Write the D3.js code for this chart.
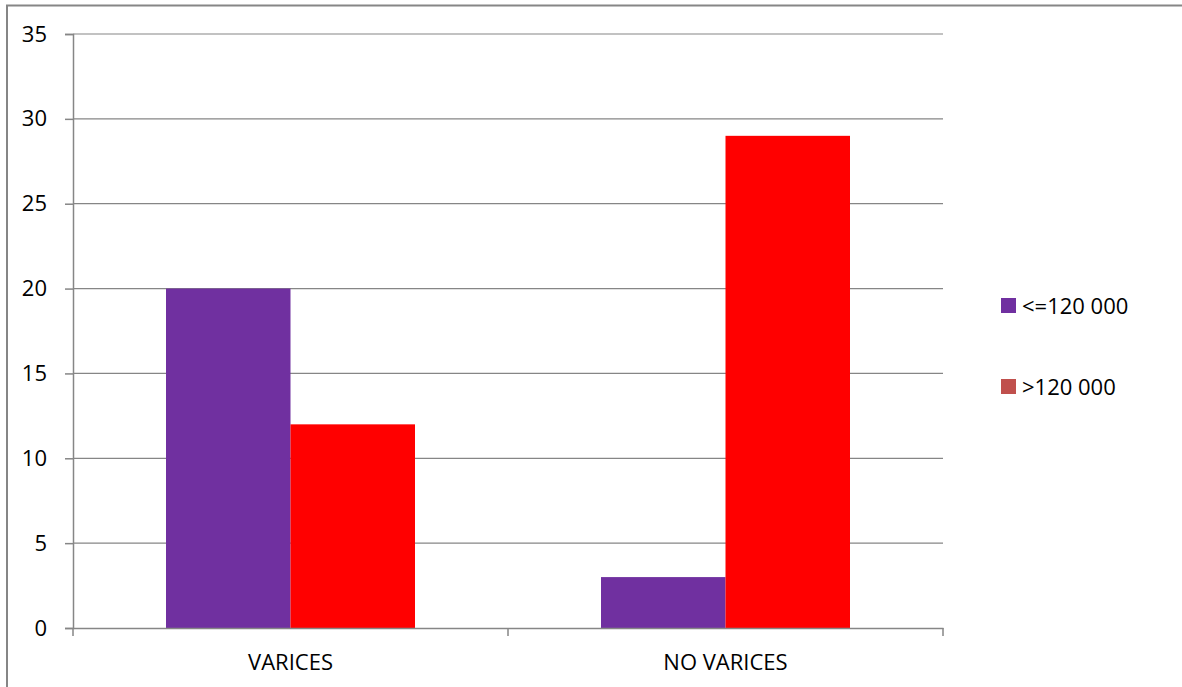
<!DOCTYPE html>
<html>
<head>
<meta charset="utf-8">
<script src="https://cdn.jsdelivr.net/npm/d3@7"></script>
<style>
  body { margin: 0; background: #fff; }
  svg text { font-family: "Open Sans", "Liberation Sans", sans-serif; fill: #000; }
</style>
</head>
<body>
<svg id="chart" width="1182" height="687"></svg>
<script>
const categories = ['VARICES', 'NO VARICES'];
const seriesNames = ['<=120 000', '>120 000'];
const lowValues = [20, 3];
const highValues = [12, 29];
const yTicks = [0, 5, 10, 15, 20, 25, 30, 35];

const barColors = ['#7030A0', '#FF0000'];
const legendColors = ['#7030A0', '#C0504D'];
const gridColor = '#868686';

const svg = d3.select('#chart');
const margin = { left: 73, top: 34, right: 943, bottom: 628 };

// outer chart border (clipped on right/bottom like the source)
svg.append('rect')
    .attr('x', 7).attr('y', 5.5)
    .attr('width', 1200).attr('height', 700)
    .attr('fill', 'none').attr('stroke', gridColor).attr('stroke-width', 2);

const y = d3.scaleLinear().domain([0, 35]).range([margin.bottom, margin.top]);
const x0 = d3.scaleBand().domain(categories).range([margin.left, margin.right]).padding(0);
const x1 = d3.scaleBand().domain(seriesNames).range([0, x0.bandwidth()])
    .paddingInner(0).paddingOuter(0.747);

// gridlines
svg.append('g').selectAll('line').data(yTicks.filter(d => d > 0)).enter().append('line')
    .attr('x1', margin.left).attr('x2', margin.right)
    .attr('y1', d => y(d)).attr('y2', d => y(d))
    .attr('stroke', gridColor).attr('stroke-width', 1.2);

// bars
const rows = categories.map((c, i) => ({ cat: c, vals: [lowValues[i], highValues[i]] }));
const groups = svg.append('g').selectAll('g').data(rows).enter().append('g')
    .attr('transform', d => `translate(${x0(d.cat)},0)`);
groups.selectAll('rect').data(d => d.vals.map((v, j) => ({ name: seriesNames[j], v, j }))).enter()
    .append('rect')
    .attr('x', d => x1(d.name))
    .attr('width', x1.bandwidth())
    .attr('y', d => y(d.v))
    .attr('height', d => y(0) - y(d.v))
    .attr('fill', d => barColors[d.j]);

// y axis
const yAxis = svg.append('g').attr('transform', `translate(${margin.left},0)`)
    .call(d3.axisLeft(y).tickValues(yTicks).tickSize(8).tickPadding(18).tickFormat(d3.format('d')));
yAxis.select('.domain').attr('stroke', gridColor).attr('stroke-width', 1.5);
yAxis.selectAll('.tick line').attr('stroke', gridColor).attr('stroke-width', 1.5);
yAxis.selectAll('.tick text').attr('font-size', 22).style('font-family', '"Open Sans", sans-serif');

// x axis
const xAxis = svg.append('g').attr('transform', `translate(0,${margin.bottom})`)
    .call(d3.axisBottom(x0).tickSize(0).tickPadding(26));
xAxis.select('.domain').attr('stroke', gridColor).attr('stroke-width', 1.5);
xAxis.selectAll('.tick text').attr('font-size', 22).style('font-family', '"Open Sans", sans-serif');
svg.append('g').selectAll('line').data([margin.left, x0('NO VARICES'), margin.right]).enter().append('line')
    .attr('x1', d => d).attr('x2', d => d)
    .attr('y1', margin.bottom).attr('y2', margin.bottom + 8)
    .attr('stroke', gridColor).attr('stroke-width', 1.5);

// legend
const legend = svg.append('g').selectAll('g').data(seriesNames).enter().append('g')
    .attr('transform', (d, i) => `translate(1001,${298 + i * 81})`);
legend.append('rect').attr('width', 15).attr('height', 15).attr('fill', (d, i) => legendColors[i]);
legend.append('text').attr('x', 21).attr('y', 8).attr('dy', '0.35em')
    .attr('font-size', 22).text(d => d);
</script>
</body>
</html>
